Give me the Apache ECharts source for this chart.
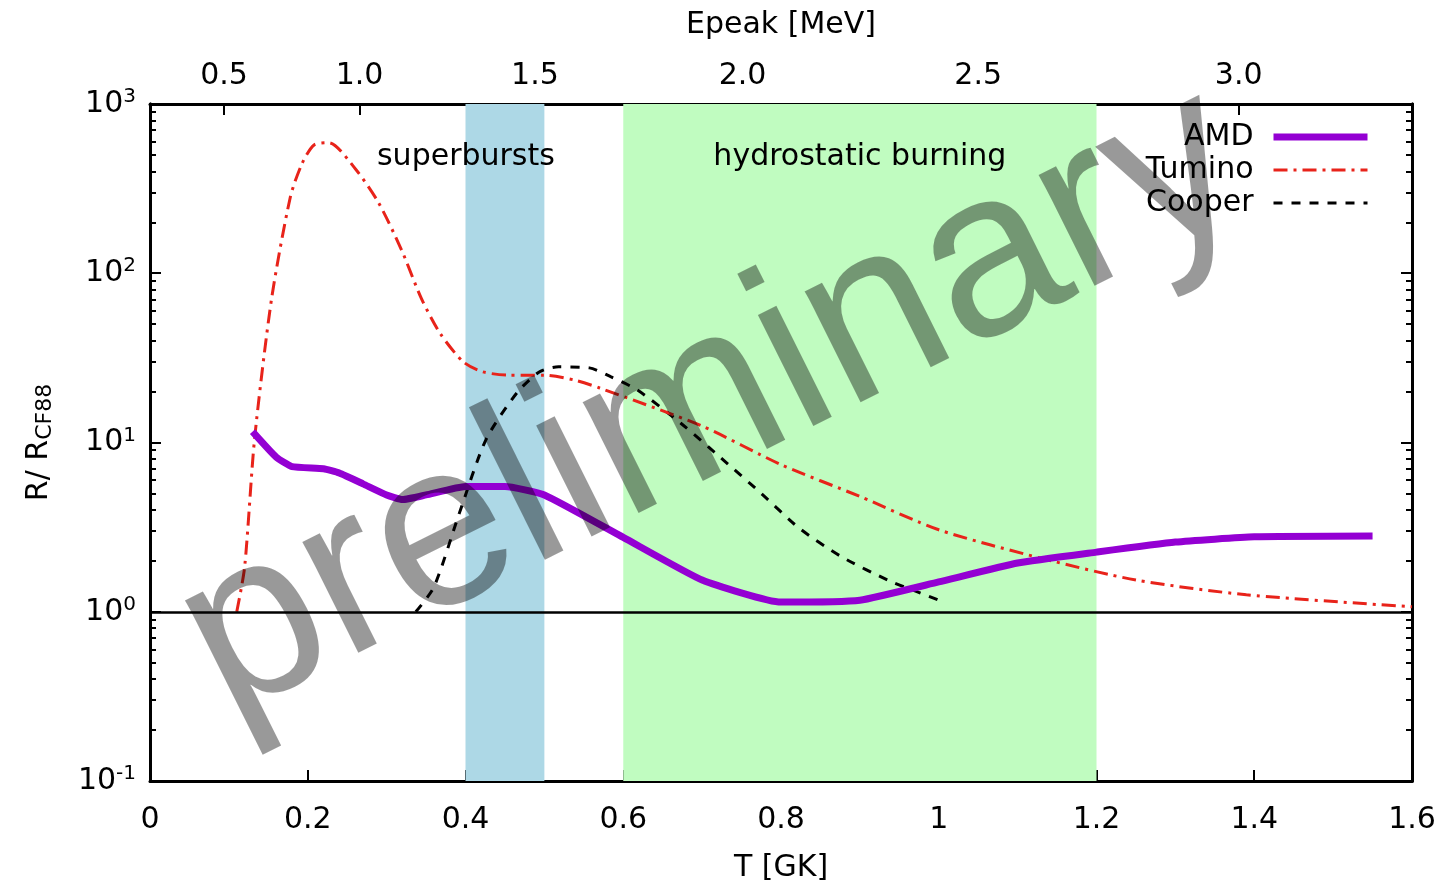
<!DOCTYPE html>
<html>
<head>
<meta charset="utf-8">
<script src="https://cdn.jsdelivr.net/npm/echarts@6/dist/echarts.min.js"></script>
<style>
html,body{margin:0;padding:0;background:#fff}
#chart{width:1444px;height:884px}
</style>
</head>
<body>
<div id="chart"></div>
<script>
// AMD (thick purple)
var amdT   = [0.13, 0.16, 0.18, 0.22, 0.24, 0.27, 0.30, 0.32, 0.35, 0.40, 0.45, 0.50, 0.60, 0.70, 0.80, 0.90, 1.0, 1.1, 1.2, 1.3, 1.4, 1.55];
var amdVal = [11.6, 8.2, 7.2, 7.0, 6.6, 5.7, 4.9, 4.6, 4.9, 5.5, 5.5, 4.9, 2.75, 1.54, 1.14, 1.17, 1.5, 1.94, 2.25, 2.58, 2.77, 2.8];

// Tumino (red dash-dot)
var tumT   = [0.11, 0.12, 0.1325, 0.154, 0.178, 0.193, 0.208, 0.227, 0.261, 0.29, 0.319, 0.344, 0.368, 0.397, 0.421, 0.455, 0.50, 0.538, 0.57, 0.70, 0.80, 0.90, 1.0, 1.13, 1.25, 1.39, 1.6];
var tumVal = [1.0, 1.84, 10.4, 70, 283, 447, 573, 590, 410, 260, 137, 71, 44, 30, 26.2, 25, 25, 23.4, 21, 12.5, 7.4, 4.8, 3.05, 2.07, 1.54, 1.26, 1.07];

// Cooper (black dashed)
var coopT   = [0.337, 0.36, 0.392, 0.426, 0.465, 0.494, 0.518, 0.557, 0.584, 0.618, 0.673, 0.724, 0.775, 0.823, 0.877, 0.939, 0.973, 1.0];
var coopVal = [1.0, 1.4, 3.8, 10.4, 19.6, 26.2, 28, 27.6, 24.5, 20.4, 13, 8.1, 5.0, 3.12, 2.11, 1.51, 1.31, 1.17];

// shaded temperature ranges
var superburstRange = [0.4, 0.5];
var hydroRange = [0.6, 1.2];

// tick labels
var yMajorTicks = [0.1, 1, 10, 100, 1000];
var epeakTicks = [0.5, 1.0, 1.5, 2.0, 2.5, 3.0];

var FONT = 'DejaVu Sans';
var RED = '#e8231a', PURPLE = '#9400d3';
var RED_DASH = [14, 6, 3, 6], BLACK_DASH = [9, 9];

function pairs(xs, ys){
	return xs.map(function(x, i){ return [x, ys[i]]; });
}

// gamow peak for 12C+12C: E0 = 2.42 T9^(2/3) MeV
function epeakToT(e){ return Math.pow(e / 2.42, 1.5); }

var yMinorTicks = [];
for (var d = 0.1; d < 1000; d *= 10) {
	for (var k = 2; k <= 9; k++) yMinorTicks.push(+(d * k).toPrecision(3));
}

function yAxisCfg(pos, ticks, len, labels){
	return {
		type: 'log', logBase: 10, min: 0.1, max: 1000, position: pos,
		axisLine: {show: true, lineStyle: {color: '#000', width: 3}},
		axisTick: {show: true, inside: true, length: len, customValues: ticks, lineStyle: {color: '#000', width: 2}},
		axisLabel: labels ? {
			show: true, margin: 14, customValues: ticks,
			formatter: function(v){ return '{b|10}{s|' + Math.round(Math.log10(v)) + '}'; },
			rich: {
				b: {fontFamily: FONT, fontSize: 30, color: '#000'},
				s: {fontFamily: FONT, fontSize: 20, color: '#000', padding: [0, 0, 14, 0]}
			}
		} : {show: false},
		splitLine: {show: false}
	};
}

var chart = echarts.init(document.getElementById('chart'));

var leftAxis = yAxisCfg('left', yMajorTicks, 11, true);
leftAxis.name = '{a|R/ R}{b|CF88}';
leftAxis.nameLocation = 'middle';
leftAxis.nameGap = 94;
leftAxis.nameRotate = 90;
leftAxis.nameTextStyle = {
	rich: {
		a: {fontFamily: FONT, fontSize: 30, color: '#000'},
		b: {fontFamily: FONT, fontSize: 22, color: '#000', padding: [12, 0, 0, 0]}
	}
};

chart.setOption({
	animation: false,
	backgroundColor: '#fff',
	grid: {left: 150, right: 32, top: 104, bottom: 103, containLabel: false, outerBoundsMode: 'none'},
	legend: {
		orient: 'vertical', right: 73, top: 122, align: 'right', padding: 0,
		itemWidth: 94, itemHeight: 14, itemGap: 3,
		data: [
			{name: 'AMD', itemStyle: {opacity: 0}, lineStyle: {width: 7, color: PURPLE}},
			{name: 'Tumino', itemStyle: {opacity: 0}, lineStyle: {width: 3, color: RED, type: RED_DASH}},
			{name: 'Cooper', itemStyle: {opacity: 0}, lineStyle: {width: 3, color: '#000', type: BLACK_DASH}}
		],
		textStyle: {fontFamily: FONT, fontSize: 30, color: '#000', lineHeight: 30, padding: [0, 15, 0, 0]}
	},
	xAxis: [
		{
			type: 'value', min: 0, max: 1.6, interval: 0.2, position: 'bottom',
			name: 'T [GK]', nameLocation: 'middle', nameGap: 72,
			nameTextStyle: {fontFamily: FONT, fontSize: 30, color: '#000'},
			axisLine: {lineStyle: {color: '#000', width: 3}},
			axisTick: {inside: true, length: 11, lineStyle: {color: '#000', width: 2}},
			axisLabel: {fontFamily: FONT, fontSize: 30, color: '#000', margin: 24},
			splitLine: {show: false}
		},
		{
			type: 'value', min: 0, max: 1.6, position: 'top',
			name: 'Epeak [MeV]', nameLocation: 'middle', nameGap: 64,
			nameTextStyle: {fontFamily: FONT, fontSize: 30, color: '#000'},
			axisLine: {show: true, lineStyle: {color: '#000', width: 3}},
			axisTick: {show: true, inside: true, length: 11, customValues: epeakTicks.map(epeakToT), lineStyle: {color: '#000', width: 2}},
			axisLabel: {
				show: true, fontFamily: FONT, fontSize: 30, color: '#000', margin: 13,
				customValues: epeakTicks.map(epeakToT),
				formatter: function(v){ return (2.42 * Math.pow(v, 2 / 3)).toFixed(1); }
			},
			splitLine: {show: false}
		}
	],
	yAxis: [
		leftAxis,
		yAxisCfg('left', yMinorTicks, 6, false),
		yAxisCfg('right', yMajorTicks, 11, false),
		yAxisCfg('right', yMinorTicks, 6, false)
	],
	series: [
		{
			name: 'bands', type: 'line', data: [], z: 0, silent: true,
			markArea: {
				silent: true,
				label: {show: true, position: 'insideTop', distance: 38, fontFamily: FONT, fontSize: 30, color: '#000'},
				data: [
					[{xAxis: superburstRange[0], name: 'superbursts', itemStyle: {color: '#add8e6'}, label: {offset: [-39, 0]}}, {xAxis: superburstRange[1]}],
					[{xAxis: hydroRange[0], name: 'hydrostatic burning', itemStyle: {color: '#c0fcc0'}}, {xAxis: hydroRange[1]}]
				]
			}
		},
		{
			name: 'unity', type: 'line', data: [], z: 1, silent: true,
			markLine: {
				silent: true, symbol: 'none', label: {show: false},
				lineStyle: {color: '#000', width: 2.5, type: 'solid'},
				data: [{yAxis: 1}]
			}
		},
		{
			name: 'Cooper', type: 'line', z: 3, symbol: 'none', smooth: 0.25,
			data: pairs(coopT, coopVal),
			itemStyle: {color: '#000'},
			lineStyle: {color: '#000', width: 3, type: BLACK_DASH}
		},
		{
			name: 'Tumino', type: 'line', z: 4, symbol: 'none', smooth: 0.25,
			data: pairs(tumT, tumVal),
			itemStyle: {color: RED},
			lineStyle: {color: RED, width: 3, type: RED_DASH}
		},
		{
			name: 'AMD', type: 'line', z: 5, symbol: 'none', smooth: 0.15,
			data: pairs(amdT, amdVal),
			itemStyle: {color: PURPLE},
			lineStyle: {color: PURPLE, width: 7}
		}
	],
	graphic: [
		{
			type: 'text', z: 100, silent: true,
			x: 712, y: 404, rotation: 26.5 * Math.PI / 180,
			style: {
				text: 'preliminary', fontFamily: 'Liberation Sans', fontSize: 235,
				fill: 'rgba(0,0,0,0.4)', align: 'center', verticalAlign: 'middle'
			}
		}
	]
});
</script>
</body>
</html>
